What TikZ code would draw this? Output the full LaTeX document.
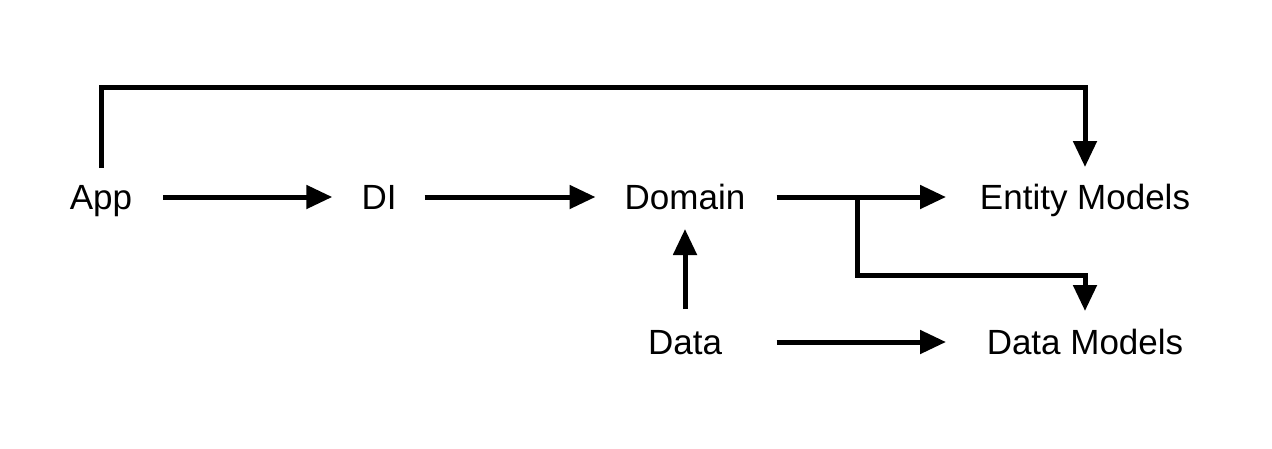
\documentclass[tikz,border=0pt]{standalone}
\usepackage{fontspec}
\setmainfont{Liberation Sans}
\usetikzlibrary{arrows.meta}
\begin{document}
\begin{tikzpicture}[x=1pt,y=-1pt,
  lbl/.style={inner sep=0pt,text height=25pt,text depth=0pt,font=\fontsize{35}{40}\selectfont},
  conn/.style={line width=5pt,-{Triangle[length=26pt,width=23pt]}}]
\useasboundingbox (0,0) rectangle (1272,448);
\node[lbl] (App) at (101,197) {App};
\node[lbl] (DI) at (379,197) {DI};
\node[lbl] (Domain) at (685,197) {Domain};
\node[lbl] (EM) at (1085,197) {Entity Models};
\node[lbl] (Data) at (685,342) {Data};
\node[lbl] (DM) at (1085,342) {Data Models};
\coordinate (split) at (857,197);
\draw[conn] ([xshift=31pt]App.east) -- ([xshift=-29pt]DI.west);
\draw[conn] ([xshift=28pt]DI.east) -- ([xshift=-29pt]Domain.west);
\draw[conn] ([xshift=31pt]Domain.east) -- ([xshift=-139pt]EM.center);
\draw[conn] ([yshift=29pt]App.center) |- ([yshift=109.5pt]EM.center) -- ([yshift=30pt]EM.center);
\draw[conn] (split) |- ([yshift=67pt]DM.center) -- ([yshift=31pt]DM.center);
\draw[conn] ([yshift=33pt]Data.center) -- ([yshift=-32pt]Domain.center);
\draw[conn] ([xshift=31pt]Domain.east |- Data.center) -- ([xshift=-139pt]DM.center);
\end{tikzpicture}
\end{document}
